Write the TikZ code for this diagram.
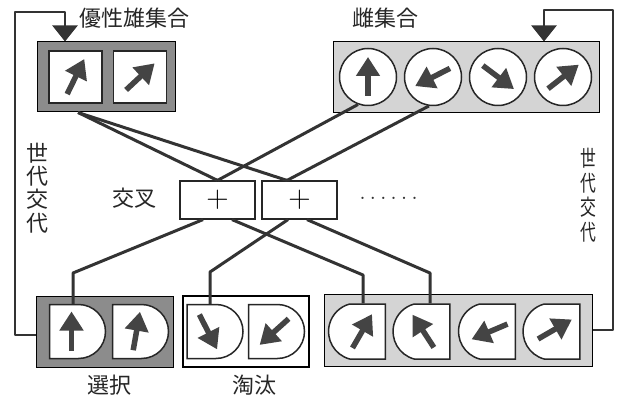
\documentclass[tikz,border=0pt]{standalone}
\usepackage{fontspec}
\newfontfamily\jp{Noto Sans CJK JP}
\usetikzlibrary{arrows.meta,shapes.misc}
\definecolor{ink}{HTML}{333333}
\definecolor{arrowgray}{HTML}{444444}
\tikzset{
  lbl/.style={font=\jp\fontsize{22}{24}\selectfont, inner sep=0pt, text=black!85},
  conn/.style={draw=ink, line width=3pt, line join=round},
  fb/.style={draw=ink, line width=2.2pt, line join=round},
  fbtip/.style={-{Triangle[length=16pt,width=25pt]}},
  darkbox/.style={draw=black, line width=1pt, fill=black!45, inner sep=0pt},
  lightbox/.style={draw=black, line width=1pt, fill=black!17, inner sep=0pt},
  whitebox/.style={draw=black, line width=1.2pt, fill=white, inner sep=0pt},
  cell/.style={draw=black!85, line width=1.5pt, fill=white, inner sep=0pt},
  sqcell/.style={cell, rectangle, minimum width=53pt, minimum height=52pt},
  circcell/.style={cell, circle, minimum size=57pt},
  dright/.style={cell, rounded rectangle, rounded rectangle west arc=none, minimum width=56pt, minimum height=54pt},
  dleft/.style={cell, rounded rectangle, rounded rectangle east arc=none, rounded rectangle arc length=150, minimum width=55pt, minimum height=55pt},
  crossbox/.style={draw=black!85, line width=1.2pt, fill=white, minimum width=75pt, minimum height=38pt, inner sep=0pt},
  arwline/.style={draw=arrowgray, line width=5.5pt, -{Triangle[length=19pt,width=23pt]}},
  pics/arw/.style={code={\draw[arwline] (-19,0) -- (20,0);}}
}
\begin{document}
\begin{tikzpicture}[x=1pt,y=-1pt]
\useasboundingbox (0,0) rectangle (626,395);

% top-left: elite males
\node[darkbox, minimum width=138pt, minimum height=70pt] (mbox) at (106,77) {};
\node[sqcell] (m1) at (75.5,77) {};
\node[sqcell] (m2) at (140,77) {};
\pic[rotate=64] at (m1.center) {arw};
\pic[rotate=43] at (m2.center) {arw};
\node[lbl] (lmale) at (134,18) {優性雄集合};

% top-right: females
\node[lightbox, minimum width=266pt, minimum height=71pt] (fbox) at (466,77.5) {};
\node[circcell] (c1) at (368,77) {};
\node[circcell] (c2) at (433,77) {};
\node[circcell] (c3) at (498,77) {};
\node[circcell] (c4) at (563,77) {};
\pic[rotate=90] at (c1.center) {arw};
\pic[rotate=207] at (c2.center) {arw};
\pic[rotate=-37] at (c3.center) {arw};
\pic[rotate=38] at (c4.center) {arw};
\node[lbl] (lfemale) at (385,18) {雌集合};

% crossover
\node[crossbox] (cx1) at (217.5,200) {};
\node[crossbox] (cx2) at (299.5,200) {};
\node[inner sep=0pt, font=\fontsize{31}{31}\selectfont] (p1) at (cx1.center) {+};
\node[inner sep=0pt, font=\fontsize{31}{31}\selectfont] (p2) at (cx2.center) {+};
\node[lbl] (lcross) at (134,198) {交叉};
\node[inner sep=0pt, font=\fontsize{28}{28}\selectfont, text=black!80] (dots) at (388.5,198) {.\kern3.4pt.\kern3.4pt.\kern3.4pt.\kern3.4pt.\kern3.4pt.};

% bottom: selection
\node[darkbox, minimum width=137pt, minimum height=71pt] (sbox) at (104.5,331.5) {};
\node[dright] (s1) at (77.5,331.5) {};
\node[dright] (s2) at (140.5,331.5) {};
\pic[rotate=90] at ([xshift=-6pt]s1.center) {arw};
\pic[rotate=80] at ([xshift=-4pt]s2.center) {arw};
\node[lbl] (lsel) at (109.5,385) {選択};

% bottom: elimination
\node[whitebox, minimum width=126pt, minimum height=71pt] (ebox) at (246,331.5) {};
\node[dright] (e1) at (215,331.5) {};
\node[dright] (e2) at (276.5,331.5) {};
\pic[rotate=-63] at ([xshift=-7pt]e1.center) {arw};
\pic[rotate=222] at ([xshift=-2pt]e2.center) {arw};
\node[lbl] (lelim) at (254,385) {淘汰};

% bottom-right: offspring
\node[lightbox, minimum width=268pt, minimum height=72pt] (rbox) at (458,330) {};
\node[dleft] (r1) at (357,331.5) {};
\node[dleft] (r2) at (421.5,331.5) {};
\node[dleft] (r3) at (487,331.5) {};
\node[dleft] (r4) at (551.5,331.5) {};
\pic[rotate=60] at ([xshift=5pt]r1.center) {arw};
\pic[rotate=123] at ([xshift=2pt]r2.center) {arw};
\pic[rotate=203] at ([xshift=3pt]r3.center) {arw};
\pic[rotate=30] at ([xshift=3pt,yshift=2pt]r4.center) {arw};

% generation labels
\node[lbl, align=center, font=\jp\fontsize{22}{23.3}\selectfont] (lgenL) at (37,188) {世\\代\\交\\代};
\node[lbl, align=center, font=\jp\fontsize{22}{24.5}\selectfont] (lgenR) at (588.5,195)
  {\scalebox{0.72}[1]{世}\\\scalebox{0.72}[1]{代}\\\scalebox{0.72}[1]{交}\\\scalebox{0.72}[1]{代}};

% feedback loops
\draw[fb, fbtip] ([yshift=-3.5pt]sbox.west) -- (15,335) -- (15,12) -- (65,12) -- ([xshift=-41pt]mbox.north);
\draw[fb, fbtip] (rbox.east) -- (613,330) -- (613,10) -- (544,10) -- ([xshift=78pt]fbox.north);

% parents to crossover
\draw[conn] ([xshift=-28pt]mbox.south) -- (cx1.north);
\draw[conn] ([xshift=-28pt]mbox.south) -- ([xshift=-12.5pt]cx2.north);
\draw[conn] (c1.250) -- (cx1.north);
\draw[conn] (c2.262) -- ([xshift=-12.5pt]cx2.north);

% crossover to offspring
\draw[conn] ([xshift=-14.5pt]cx1.south) -- (73,273) -- ([xshift=-4.5pt]s1.north);
\draw[conn] ([xshift=-11.5pt]cx2.south) -- (210,272) -- ([xshift=-5pt]e1.north);
\draw[conn] ([xshift=14.5pt]cx1.south) -- (363,275) -- ([xshift=6pt]r1.north);
\draw[conn] ([xshift=7.5pt]cx2.south) -- (430,273) -- ([xshift=8.5pt]r2.north);
\end{tikzpicture}
\end{document}
